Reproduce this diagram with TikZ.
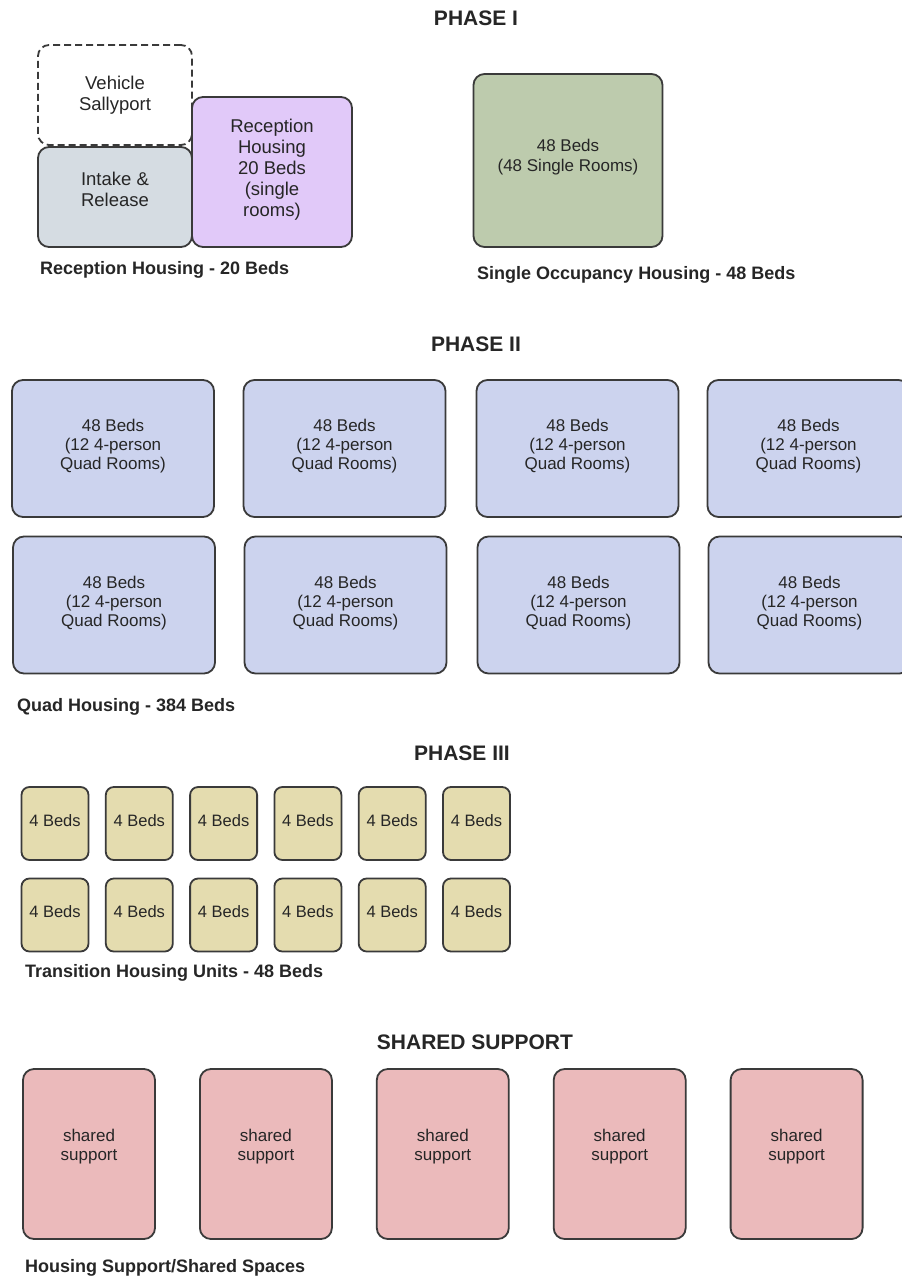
\documentclass[tikz,border=0pt]{standalone}
\usepackage{fontspec}
\setmainfont{Liberation Sans}
\definecolor{bordc}{HTML}{3A3A3A}
\definecolor{txtc}{HTML}{262626}
\definecolor{intakec}{HTML}{D5DCE2}
\definecolor{recepc}{HTML}{E1C9F9}
\definecolor{singlec}{HTML}{BDCBAD}
\definecolor{quadc}{HTML}{CCD3EE}
\definecolor{transc}{HTML}{E4DCAF}
\definecolor{sharedc}{HTML}{EBBABB}
\tikzset{
  room/.style={draw=bordc, line width=1.8pt, rounded corners=11pt, inner sep=0pt},
  smallroom/.style={room, rounded corners=8pt, fill=transc},
  btxt/.style={align=center, text=txtc, inner sep=0pt, font=\fontsize{17}{19}\selectfont},
  ptxt/.style={btxt, font=\fontsize{18.5}{21}\selectfont},
  lbl/.style={anchor=west, inner sep=0pt, text=txtc, font=\bfseries\fontsize{18}{20}\selectfont},
  ttl/.style={inner sep=0pt, text=txtc, font=\bfseries\fontsize{21}{23}\selectfont}
}
\begin{document}
\begin{tikzpicture}[x=1pt,y=-1pt]
\clip (0,0) rectangle (902,1280);
\fill[white] (0,0) rectangle (902,1280);

% PHASE I
\node[ttl] (t1) at (476,18) {PHASE I};
\node[room, dashed, dash pattern=on 7pt off 4pt, fill=white, minimum width=154pt, minimum height=100pt] (vs) at (115,95) {};
\node[ptxt] (vst) at (vs.center) {Vehicle\\Sallyport};
\node[room, fill=intakec, minimum width=154pt, minimum height=100pt] (ir) at (115,197) {};
\node[ptxt] (irt) at ([yshift=8pt]ir.center) {Intake \&\\Release};
\node[room, fill=recepc, minimum width=160pt, minimum height=150pt] (rh) at (272,172) {};
\node[ptxt] (rht) at ([yshift=2pt]rh.center) {Reception\\Housing\\20 Beds\\(single\\rooms)};
\node[lbl] (l1) at (40,270) {Reception Housing - 20 Beds};

\node[room, fill=singlec, minimum width=189pt, minimum height=173pt] (so) at (568,160.5) {};
\node[btxt, font=\fontsize{17}{20}\selectfont] (sot) at ([yshift=3pt]so.center) {48 Beds\\(48 Single Rooms)};
\node[lbl] (l2) at (477,275) {Single Occupancy Housing - 48 Beds};

% PHASE II
\node[ttl] (t2) at (476,344) {PHASE II};
\foreach \i/\x in {1/113,2/344.5,3/577.5,4/808.5}{
  \node[room, fill=quadc, minimum width=202pt, minimum height=137pt] (qa\i) at (\x,448.5) {};
  \node[btxt] (qat\i) at ([yshift=2pt]qa\i.center) {48 Beds\\(12 4-person\\Quad Rooms)};
  \node[room, fill=quadc, minimum width=202pt, minimum height=137pt] (qb\i) at (\x+1,605) {};
  \node[btxt] (qbt\i) at ([yshift=2pt]qb\i.center) {48 Beds\\(12 4-person\\Quad Rooms)};
}
\node[lbl] (l3) at (17,707) {Quad Housing - 384 Beds};

% PHASE III
\node[ttl] (t3) at (462,753) {PHASE III};
\foreach \i in {0,...,5}{
  \node[smallroom, minimum width=67pt, minimum height=73pt] (ta\i) at (55+84.3*\i,823.5) {};
  \node[btxt, font=\fontsize{16.5}{19}\selectfont] (tat\i) at ([yshift=3pt]ta\i.center) {4 Beds};
  \node[smallroom, minimum width=67pt, minimum height=73pt] (tb\i) at (55+84.3*\i,915) {};
  \node[btxt, font=\fontsize{16.5}{19}\selectfont] (tbt\i) at ([yshift=3pt]tb\i.center) {4 Beds};
}
\node[lbl] (l4) at (25,973) {Transition Housing Units - 48 Beds};

% SHARED SUPPORT
\node[ttl] (t4) at (475,1042) {SHARED SUPPORT};
\foreach \i in {0,...,4}{
  \node[room, fill=sharedc, minimum width=132pt, minimum height=170pt] (s\i) at (89+176.9*\i,1154) {};
  \node[btxt] (st\i) at ([yshift=7pt]s\i.center) {shared\\support};
}
\node[lbl] (l5) at (25,1268) {Housing Support/Shared Spaces};
\end{tikzpicture}
\end{document}
